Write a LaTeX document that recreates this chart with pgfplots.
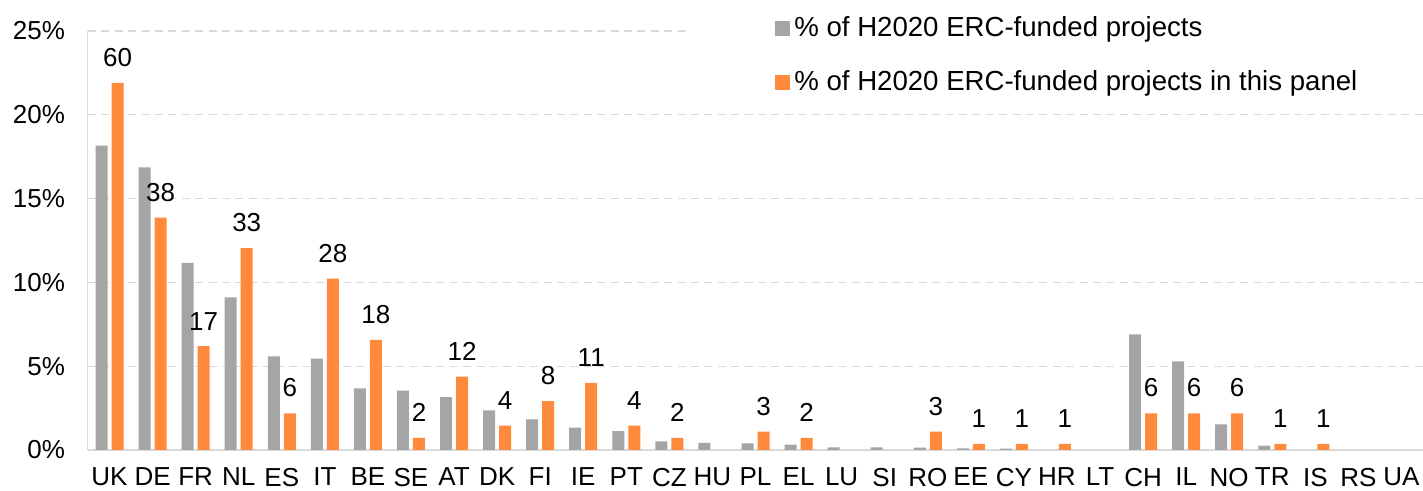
\documentclass[border=0pt]{standalone}
\usepackage{pgfplots}
\pgfplotsset{compat=1.18}
\usepackage{fontspec}
\setmainfont{Liberation Sans}

\definecolor{ercgray}{HTML}{A5A5A5}
\definecolor{ercorange}{HTML}{FF8A3C}
\definecolor{gridgray}{HTML}{D9D9D9}

\begin{document}
\begin{tikzpicture}
\begin{axis}[
    scale only axis,
    width=667.5pt,
    height=209.5pt,
    ybar,
    bar width=6pt,
    xmin=-0.5, xmax=30.5,
    ymin=0, ymax=25,
    xtick={0,...,30},
    xticklabels={UK,DE,FR,NL,ES,IT,BE,SE,AT,DK,FI,IE,PT,CZ,HU,PL,EL,LU,SI,RO,EE,CY,HR,LT,CH,IL,NO,TR,IS,RS,UA},
    ytick={0,5,10,15,20,25},
    yticklabels={0\%,5\%,10\%,15\%,20\%,25\%},
    major tick length=0pt,
    tick label style={font=\fontsize{13}{15}\selectfont},
    xticklabel style={yshift=-5.5pt},
    yticklabel style={xshift=-8pt},
    axis x line*=bottom,
    axis y line*=left,
    x axis line style={gridgray, line width=0.9pt},
    y axis line style={gridgray, line width=0.5pt},
    ymajorgrids=true,
    grid style={gridgray, line width=0.6pt, dash pattern=on 4pt off 2.7pt},
    clip=false,
    legend cell align=left,
    legend style={draw=none, fill=none, at={(rel axis cs:0.5146,1.045)}, anchor=north west,
        font=\fontsize{13.8}{16}\selectfont, row sep=11.5pt, inner sep=0pt},
    legend image code/.code={\fill[#1] (0pt,-3.75pt) rectangle (7.5pt,3.75pt);},
]
% share of all H2020 ERC-funded projects
\addplot[fill=ercgray, draw=none, bar shift=-4pt] coordinates {
    (0,18.16) (1,16.87) (2,11.16) (3,9.11) (4,5.59) (5,5.45) (6,3.68) (7,3.54)
    (8,3.16) (9,2.37) (10,1.83) (11,1.33) (12,1.13) (13,0.52) (14,0.42) (15,0.40)
    (16,0.32) (17,0.16) (18,0.16) (19,0.14) (20,0.10) (21,0.08)
    (24,6.90) (25,5.29) (26,1.53) (27,0.26)
};
\addlegendentry{\% of H2020 ERC-funded projects}
% share in this panel, labelled with project counts
\addplot[fill=ercorange, draw=none, bar shift=4pt,
    point meta=explicit symbolic, nodes near coords,
    every node near coord/.append style={font=\fontsize{13}{15}\selectfont, black, yshift=4.5pt}] coordinates {
    (0,21.90) [60] (1,13.87) [38] (2,6.20) [17] (3,12.04) [33] (4,2.19) [6]
    (5,10.22) [28] (6,6.57) [18] (7,0.73) [2] (8,4.38) [12] (9,1.46) [4]
    (10,2.92) [8] (11,4.01) [11] (12,1.46) [4] (13,0.73) [2] (15,1.09) [3]
    (16,0.73) [2] (19,1.09) [3] (20,0.36) [1] (21,0.36) [1] (22,0.36) [1]
    (24,2.19) [6] (25,2.19) [6] (26,2.19) [6] (27,0.36) [1] (28,0.36) [1]
};
\addlegendentry{\% of H2020 ERC-funded projects in this panel}
% legend area hides the top gridline
\fill[white] (rel axis cs:0.448,0.85) rectangle (rel axis cs:1.01,1.02);
\end{axis}
\pgfresetboundingbox
\path (-44pt,-20.5pt) rectangle (667.5pt,225pt);
\end{tikzpicture}
\end{document}
